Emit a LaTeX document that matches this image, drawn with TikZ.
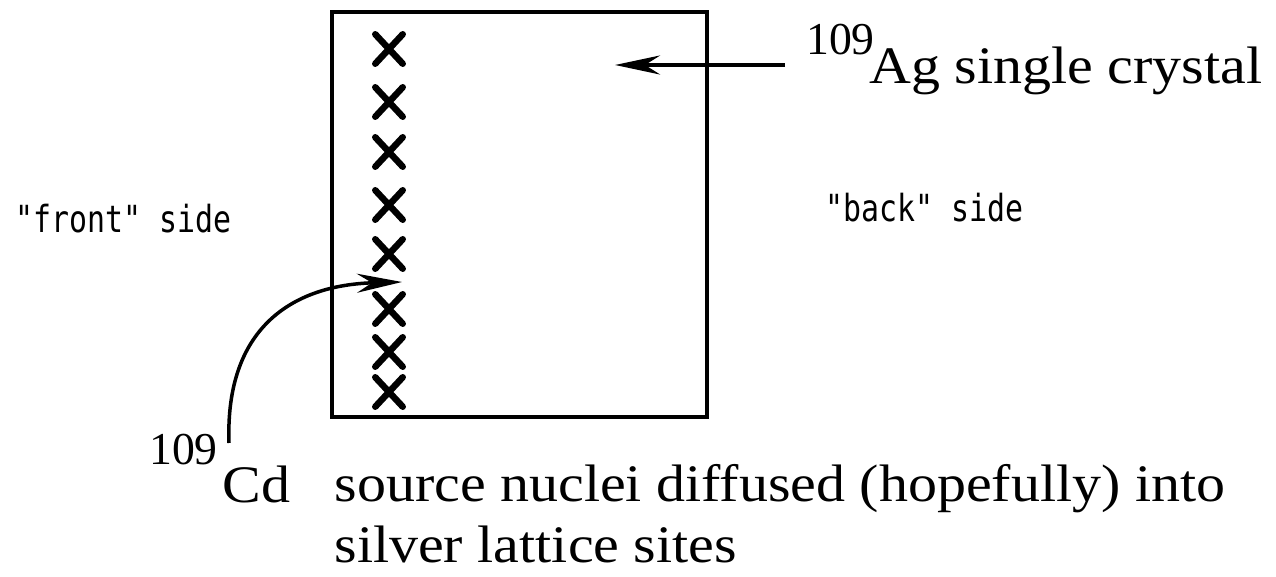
\documentclass[tikz,border=0pt]{standalone}
\usepackage{fontspec}
\setmainfont{Liberation Serif}
\newfontfamily\typefont{DejaVu Sans Mono}
\usetikzlibrary{shapes.misc}
\usetikzlibrary{arrows,arrows.meta}

\tikzset{
  site/.style={cross out, draw, line width=0.13cm, line cap=round,
    minimum width=0.42cm, minimum height=0.46cm, inner sep=0pt},
  big/.style={inner sep=0pt, anchor=base west, xscale=1.1, font=\fontsize{30}{36}\selectfont},
  mass/.style={inner sep=0pt, anchor=base west, font=\fontsize{26}{31}\selectfont},
  side/.style={inner sep=0pt, anchor=base west, yscale=1.25, font=\fontsize{17}{21}\typefont},
}

\begin{document}
\begin{tikzpicture}[x=0.02cm, y=-0.02cm, line width=0.09cm,
  >={Stealth[length=0.9cm,width=0.38cm,inset=0.3cm]}]

	\useasboundingbox (0,0) rectangle (1276,577);

	% crystal with the source sites near the front face
	\node[draw, line width=0.08cm, minimum width=7.5cm, minimum height=8.1cm, inner sep=0pt]
		(crystal) at (519.5,214.5) {};
	\foreach \y [count=\i] in {49,102,152,205,254,309,352,392}
		\node[site] (x\i) at (389,\y) {};

	\node[side] (front) at (13,233) {"front" side};
	\node[side] (back) at (823,222) {"back" side};

	% labels
	\node[mass] (agmass) at (804,55) {109};
	\node[big] (ag) at (867,84) {Ag single crystal};
	\node[mass] (cdmass) at (147,465) {109};
	\node[big] (cd) at (220,503) {Cd};
	\node[big] (src) at (332,502) {source nuclei diffused (hopefully) into};
	\node[big] (src2) at (332,563) {silver lattice sites};

	% arrows
	\coordinate (agtail) at (785,65);
	\coordinate (agtip) at (615,65);
	\draw[->] (agtail) -- (agtip);
	\coordinate (cdtail) at (229,443);
	\coordinate (cdtip) at (402,282);
	\draw[->, line width=0.07cm] (cdtail) .. controls (225,330) and (290,285) .. (cdtip);

\end{tikzpicture}
\end{document}
